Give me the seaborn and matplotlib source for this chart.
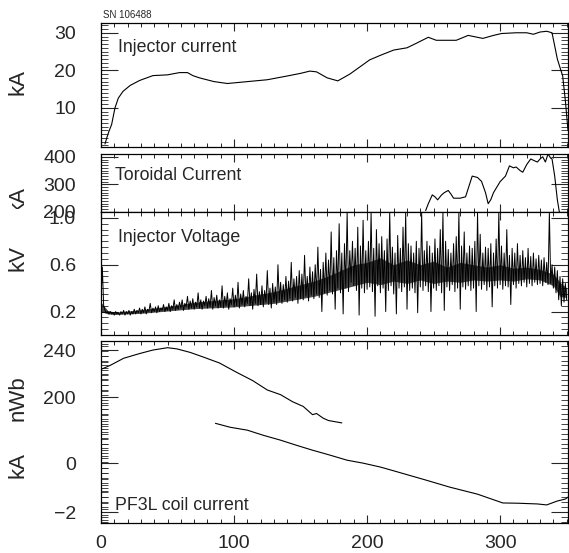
""" Shot SN 106488: injector current, toroidal current, injector voltage, flux and PF3L current """

import matplotlib
matplotlib.use("Agg")
import matplotlib.pyplot as plt
from matplotlib import font_manager
from matplotlib.ticker import FixedLocator, MultipleLocator
from matplotlib.transforms import Bbox, TransformedBbox
import numpy as np
import seaborn as sns

# injector current (kA)
inj_t = [3, 4.5, 6, 8, 10.5, 13, 16.5, 22, 29, 39, 50, 59, 65, 69, 74, 85, 95, 110, 125,
         140, 150, 157, 162, 170, 178, 187, 202, 210, 220, 230, 237, 246, 252, 260, 267,
         276, 287, 295, 301, 312, 320, 325, 330, 335, 339, 343, 347, 349, 351]
inj_ka = [0.4, 2.2, 3.8, 5.6, 10, 12.6, 14.4, 16, 17.3, 18.6, 18.8, 19.4, 19.4, 18.6, 18,
          17, 16.5, 17, 17.5, 18.5, 19.2, 19.8, 19.6, 18, 17.2, 19, 22.8, 24, 25.4, 26, 27.2,
          28.8, 28, 28, 28, 29.3, 28.5, 29.3, 29.8, 30, 30, 29.6, 30.2, 30.4, 30, 23, 18.5,
          12, 4]

# toroidal current (kA)
tor_t = [244, 246, 249, 251, 253, 256, 258, 261, 263, 265, 270, 274, 277, 279, 283, 286,
         289, 291, 293, 295, 300, 304, 307, 310, 312, 315, 317, 320, 323, 326, 328, 330,
         332, 334, 336, 338, 339, 341, 343, 344.5]
tor_ka = [205, 230, 262, 255, 244, 262, 270, 278, 265, 250, 250, 255, 300, 330, 325, 311,
          270, 230, 245, 270, 310, 330, 367, 360, 363, 350, 344, 372, 392, 385, 381, 392,
          400, 381, 410, 395, 392, 330, 244, 200]

# injector voltage (kV), one sample per time unit from t = 0
volt_kv = [
    0.30, 0.58, 0.25, 0.21, 0.19, 0.2, 0.18, 0.2, 0.18, 0.19,
    0.17, 0.2, 0.18, 0.19, 0.17, 0.2, 0.18, 0.21, 0.17, 0.2,
    0.18, 0.21, 0.17, 0.2, 0.18, 0.22, 0.18, 0.21, 0.19, 0.23,
    0.18, 0.22, 0.19, 0.24, 0.18, 0.22, 0.2, 0.27, 0.19, 0.23,
    0.2, 0.24, 0.19, 0.25, 0.2, 0.23, 0.21, 0.26, 0.2, 0.24,
    0.21, 0.27, 0.2, 0.25, 0.22, 0.3, 0.21, 0.26, 0.22, 0.28,
    0.23, 0.3, 0.21, 0.27, 0.24, 0.33, 0.22, 0.29, 0.23, 0.31,
    0.22, 0.28, 0.24, 0.36, 0.23, 0.3, 0.22, 0.29, 0.25, 0.33,
    0.23, 0.31, 0.24, 0.38, 0.22, 0.32, 0.25, 0.34, 0.23, 0.3,
    0.24, 0.42, 0.23, 0.33, 0.25, 0.36, 0.22, 0.31, 0.26, 0.4,
    0.24, 0.34, 0.25, 0.45, 0.23, 0.35, 0.26, 0.38, 0.24, 0.33,
    0.27, 0.48, 0.25, 0.36, 0.22, 0.39, 0.27, 0.52, 0.25, 0.37,
    0.26, 0.42, 0.24, 0.38, 0.28, 0.55, 0.26, 0.4, 0.23, 0.44,
    0.28, 0.41, 0.26, 0.6, 0.29, 0.45, 0.27, 0.43, 0.3, 0.5,
    0.28, 0.46, 0.31, 0.62, 0.29, 0.48, 0.32, 0.5, 0.27, 0.55,
    0.31, 0.52, 0.3, 0.68, 0.33, 0.5, 0.29, 0.58, 0.34, 0.54,
    0.31, 0.6, 0.35, 0.75, 0.32, 0.56, 0.2, 0.62, 0.36, 0.7,
    0.34, 0.64, 0.38, 0.88, 0.35, 0.66, 0.22, 0.72, 0.4, 0.95,
    0.36, 0.7, 0.18, 0.78, 0.4, 1.05, 0.37, 0.72, 0.45, 0.8,
    0.42, 0.74, 0.38, 0.92, 0.17, 0.76, 0.4, 0.98, 0.36, 0.72,
    0.39, 0.8, 0.41, 1.05, 0.37, 0.74, 0.16, 0.9, 0.42, 0.78,
    0.36, 0.84, 0.4, 0.72, 0.2, 0.82, 0.38, 1.05, 0.42, 0.75,
    0.35, 0.7, 0.18, 0.85, 0.4, 0.74, 0.37, 0.92, 0.41, 1.05,
    0.22, 0.78, 0.38, 0.76, 0.4, 0.7, 0.36, 0.8, 0.19, 0.74,
    0.41, 1.05, 0.38, 0.72, 0.42, 0.8, 0.37, 0.76, 0.2, 0.7,
    0.4, 0.82, 0.38, 0.74, 0.42, 0.9, 0.36, 1.05, 0.21, 0.8,
    0.41, 0.73, 0.38, 0.7, 0.43, 0.78, 0.37, 0.84, 0.4, 1.05,
    0.22, 0.76, 0.41, 0.88, 0.39, 0.7, 0.42, 0.76, 0.38, 0.74,
    0.4, 0.8, 0.2, 1.05, 0.42, 0.86, 0.39, 0.7, 0.43, 0.75,
    0.38, 0.74, 0.41, 0.78, 0.24, 0.7, 0.42, 0.82, 0.4, 1.05,
    0.43, 0.76, 0.39, 0.7, 0.42, 0.9, 0.41, 0.68, 0.26, 0.74,
    0.43, 0.7, 0.4, 0.78, 0.44, 0.68, 0.42, 0.72, 0.45, 0.66,
    0.41, 0.74, 0.44, 0.67, 0.42, 0.7, 0.45, 0.65, 0.43, 0.68,
    0.44, 0.64, 0.42, 0.66, 0.45, 0.62, 0.43, 1.05, 0.44, 0.6,
    0.4, 0.58, 0.36, 0.55, 0.3, 0.5, 0.25, 0.48, 0.28, 0.44,
    0.3,
]
volt_t = np.arange(len(volt_kv))

# dense core of the voltage trace (kV)
band_t = [0, 5, 10, 20, 30, 40, 50, 60, 70, 80, 90, 100, 110, 120, 130, 140, 150, 160,
          170, 180, 190, 200, 210, 220, 230, 240, 250, 260, 270, 280, 290, 300, 310, 320,
          330, 340, 345, 350]
band_lo = [0.2, 0.18, 0.175, 0.18, 0.185, 0.195, 0.205, 0.215, 0.225, 0.23, 0.235, 0.24,
           0.25, 0.26, 0.27, 0.29, 0.31, 0.33, 0.36, 0.39, 0.42, 0.45, 0.43, 0.46, 0.44,
           0.47, 0.44, 0.46, 0.45, 0.47, 0.46, 0.47, 0.46, 0.48, 0.47, 0.42, 0.33, 0.32]
band_hi = [0.28, 0.21, 0.195, 0.205, 0.215, 0.23, 0.245, 0.26, 0.28, 0.29, 0.3, 0.31,
           0.33, 0.35, 0.37, 0.4, 0.43, 0.46, 0.5, 0.55, 0.6, 0.62, 0.66, 0.6, 0.64, 0.6,
           0.63, 0.58, 0.62, 0.6, 0.58, 0.6, 0.57, 0.58, 0.56, 0.52, 0.45, 0.4]

# flux (nWb)
flux_t = [1, 7, 17, 29, 39, 50, 57, 67, 77, 89, 102, 114, 125, 135, 144, 152, 159, 162,
          167, 171, 181]
flux_nwb = [224, 227, 233, 237, 240, 242, 241, 238, 234, 229, 221, 214, 206, 202, 196,
            192, 185, 186, 182, 180, 178]

# PF3L coil current (kA)
pf3l_t = [86, 97, 110, 122, 135, 147, 159, 172, 185, 197, 210, 221, 244, 262, 283, 302,
          313, 328, 335, 343, 349, 351]
pf3l_ka = [1.63, 1.47, 1.35, 1.14, 0.94, 0.73, 0.53, 0.33, 0.12, 0.0, -0.16, -0.33,
           -0.69, -0.98, -1.27, -1.63, -1.64, -1.67, -1.71, -1.55, -1.47, -1.39]

x_ticks = [0, 100, 200, 300]

sns.set_style("ticks")
names = {f.name for f in font_manager.fontManager.ttflist}
NARROW = "Liberation Sans Narrow" in names
plt.rcParams["font.family"] = ["Liberation Sans Narrow" if NARROW else "Liberation Sans",
                               "DejaVu Sans"]
TICK_FS = 16 if NARROW else 14
TITLE_FS = 15 if NARROW else 12.75

W, H = 569, 553
fig = plt.figure(figsize=(W / 100, H / 100), dpi=100)


def panel(top, bottom, **kw):
    """ Axes placed by pixel rows, shared x frame """
    return fig.add_axes([101 / W, 1 - bottom / H, 467 / W, (bottom - top) / H], **kw)


def frame(ax, show_x=False):
    ax.set_xlim(0, 351)
    ax.xaxis.set_major_locator(FixedLocator(x_ticks))
    ax.xaxis.set_minor_locator(MultipleLocator(10))
    ax.tick_params(axis="x", which="major", direction="in", top=True, bottom=True,
                   length=6, width=0.8, labelbottom=show_x, labelsize=TICK_FS, pad=9)
    ax.tick_params(axis="x", which="minor", direction="in", top=True, bottom=True,
                   length=3, width=0.7)
    ax.tick_params(axis="y", which="major", direction="in", left=True, right=True,
                   length=12, width=0.8, labelsize=TICK_FS, pad=18)
    ax.tick_params(axis="y", which="minor", direction="in", left=True, right=True,
                   length=5, width=0.6)
    for s in ax.spines.values():
        s.set_linewidth(0.9)
        s.set_color("black")
    ax.set_xlabel("")
    ax.set_ylabel("")


line_kw = dict(color="black", linewidth=0.8, estimator=None, sort=False, legend=False)

# panel 1: injector current
ax1 = panel(23, 147)
sns.lineplot(x=inj_t, y=inj_ka, ax=ax1, **line_kw)
ax1.set_ylim(-0.4, 32.6)
ax1.set_yticks([10, 20, 30])
ax1.yaxis.set_minor_locator(MultipleLocator(1))
frame(ax1)
ax1.text(0.036, 0.766, "Injector current", transform=ax1.transAxes, fontsize=TITLE_FS)

# panel 2: toroidal current
ax2 = panel(154, 212)
sns.lineplot(x=tor_t, y=tor_ka, ax=ax2, **line_kw)
ax2.set_ylim(200, 410)
ax2.set_yticks([200, 300, 400])
ax2.yaxis.set_minor_locator(MultipleLocator(10))
frame(ax2)
ax2.text(0.03, 0.55, "Toroidal Current", transform=ax2.transAxes, fontsize=TITLE_FS)

# panel 3: injector voltage
ax3 = panel(212, 335)
ax3.fill_between(band_t, band_lo, band_hi, color="black", alpha=0.7, linewidth=0)
sns.lineplot(x=volt_t, y=volt_kv, ax=ax3, color="black", linewidth=0.7,
             estimator=None, sort=False, legend=False)
ax3.set_ylim(0, 1.05)
ax3.set_yticks([0.2, 0.6, 1.0])
ax3.set_yticklabels(["0.2", "0.6", "1.0"])
ax3.yaxis.set_minor_locator(MultipleLocator(0.05))
frame(ax3)
ax3.text(0.036, 0.756, "Injector Voltage", transform=ax3.transAxes, fontsize=TITLE_FS)

# panel 4: flux (nWb) and PF3L coil current (kA) on one frame
ax4 = panel(341, 523)
sns.lineplot(x=pf3l_t, y=pf3l_ka, ax=ax4, **line_kw)
ax4.set_ylim(-2.45, 5.0)
ax4.set_yticks([-2, 0])
ax4.yaxis.set_minor_locator(MultipleLocator(0.2))
frame(ax4, show_x=True)
ax4.text(0.03, 0.071, "PF3L coil current", transform=ax4.transAxes, fontsize=TITLE_FS)

ax4n = panel(341, 523, frameon=False)
sns.lineplot(x=flux_t, y=flux_nwb, ax=ax4n, **line_kw)
ax4n.set_xlim(0, 351)
ax4n.set_ylim(92.8, 247.7)
ax4n.set_yticks([200, 240])
ax4n.yaxis.set_minor_locator(MultipleLocator(5))
ax4n.set_xticks([])
ax4n.tick_params(axis="y", which="major", direction="in", length=12, width=0.8,
                 labelsize=TICK_FS, pad=18)
ax4n.tick_params(axis="y", which="minor", direction="in", length=5, width=0.6)
ax4n.set_xlabel("")
ax4n.set_ylabel("")

# unit labels and shot number
unit_font = ["Liberation Sans", "DejaVu Sans"]
for ypix, unit in [(82, "kA"), (199, "kA"), (258, "kV"), (398, "nWb"), (465, "kA")]:
    t = fig.text(18 / W, 1 - ypix / H, unit, rotation=90, ha="center", va="center",
                 fontsize=16, family=unit_font)
    if ypix == 199:
        # the toroidal label is cut off where the voltage frame begins
        t.set_clip_box(TransformedBbox(Bbox([[0, 1 - 209 / H], [1, 1]]), fig.transFigure))
        t.set_clip_on(True)
fig.text(103 / W, 1 - 18 / H, "SN 106488", fontsize=7, family=unit_font)

plt.savefig("out.png", dpi=100, facecolor="white")
